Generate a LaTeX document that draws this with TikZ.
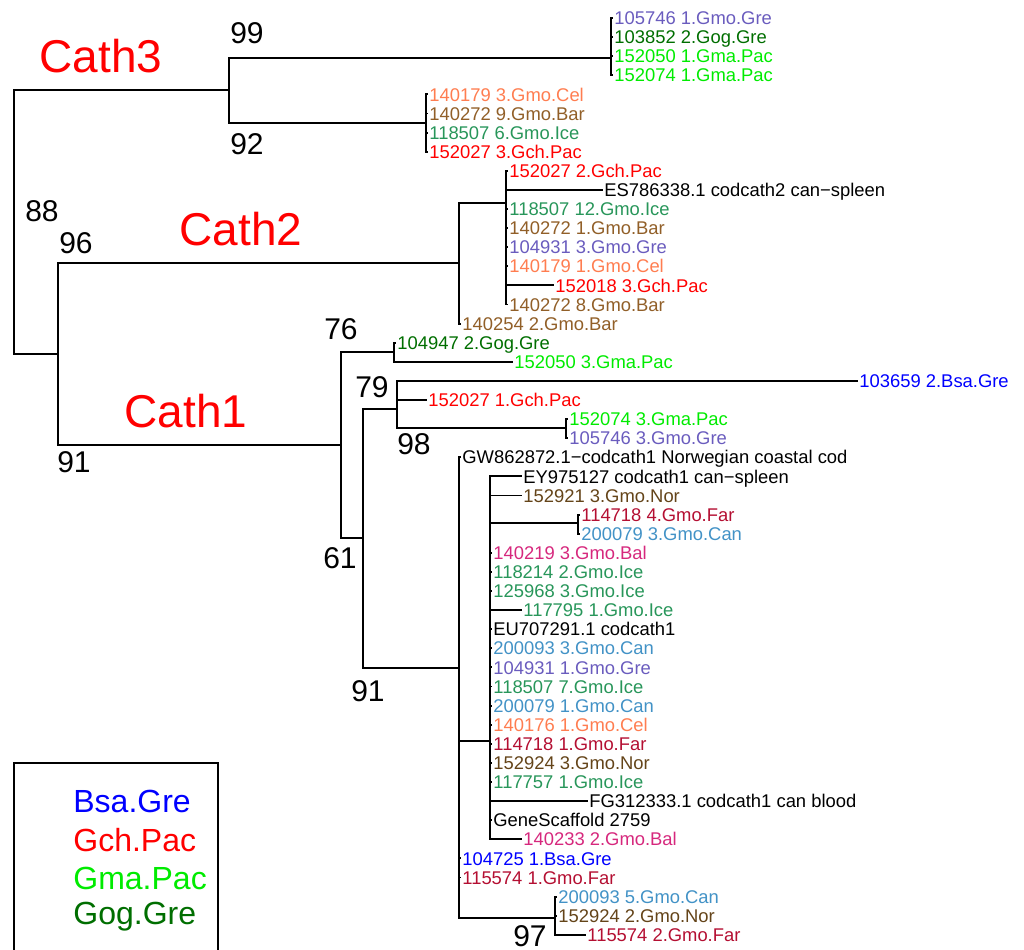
\documentclass[tikz,border=0pt]{standalone}
\usepackage{fontspec}
\setmainfont{Liberation Sans}

\definecolor{cGmoGre}{RGB}{106,92,190}
\definecolor{cGogGre}{RGB}{0,110,0}
\definecolor{cGmaPac}{RGB}{0,235,0}
\definecolor{cGmoCel}{RGB}{255,125,80}
\definecolor{cGmoBar}{RGB}{145,95,40}
\definecolor{cGmoIce}{RGB}{40,150,90}
\definecolor{cGchPac}{RGB}{255,0,0}
\definecolor{cGmoNor}{RGB}{100,68,25}
\definecolor{cGmoFar}{RGB}{180,15,50}
\definecolor{cGmoCan}{RGB}{66,146,198}
\definecolor{cGmoBal}{RGB}{214,40,125}
\definecolor{cBsaGre}{RGB}{0,0,255}

\begin{document}
\begin{tikzpicture}[
    x=0.5pt, y=-0.5pt,
    branch/.style={line width=0.95pt},
    tip/.style={anchor=west, inner sep=0.5pt, text height=6.6pt, text depth=0pt, font=\fontsize{9.2}{10}\selectfont},
    boot/.style={font=\fontsize{15}{15}\selectfont},
    clade/.style={text=red, font=\fontsize{23}{23}\selectfont},
    legend/.style={anchor=west, inner sep=0pt, font=\fontsize{16}{16}\selectfont},
    gmogre/.style={text=cGmoGre}, goggre/.style={text=cGogGre},
    gmapac/.style={text=cGmaPac}, gmocel/.style={text=cGmoCel},
    gmobar/.style={text=cGmoBar}, gmoice/.style={text=cGmoIce},
    gchpac/.style={text=cGchPac}, gmonor/.style={text=cGmoNor},
    gmofar/.style={text=cGmoFar}, gmocan/.style={text=cGmoCan},
    gmobal/.style={text=cGmoBal}, bsagre/.style={text=cBsaGre}
]
\useasboundingbox (0,0) rectangle (1024,949);

% internal nodes (x of the vertical, y of the incoming branch)
\coordinate (root) at (14,222);
\coordinate (c3) at (229,90);
\coordinate (c3a) at (611,58);
\coordinate (c3b) at (426,123);
\coordinate (n96) at (58,354);
\coordinate (c2) at (459,263);
\coordinate (c2a) at (506,203);
\coordinate (n61) at (341,445);
\coordinate (n76) at (394,352);
\coordinate (n91) at (363,538);
\coordinate (n79) at (397,409);
\coordinate (n98) at (566,428);
\coordinate (c1) at (459,668);
\coordinate (c1a) at (490,741);
\coordinate (nfar) at (578,523);
\coordinate (n97) at (555,918);

% tips
\node[tip, gmogre] (t1) at (613,18.0) {105746 1.Gmo.Gre};
\node[tip, goggre] (t2) at (613,37.1) {103852 2.Gog.Gre};
\node[tip, gmapac] (t3) at (613,56.2) {152050 1.Gma.Pac};
\node[tip, gmapac] (t4) at (613,75.3) {152074 1.Gma.Pac};
\node[tip, gmocel] (t5) at (428,94.4) {140179 3.Gmo.Cel};
\node[tip, gmobar] (t6) at (428,113.5) {140272 9.Gmo.Bar};
\node[tip, gmoice] (t7) at (428,132.6) {118507 6.Gmo.Ice};
\node[tip, gchpac] (t8) at (428,151.7) {152027 3.Gch.Pac};
\node[tip, gchpac] (t9) at (508,170.8) {152027 2.Gch.Pac};
\node[tip] (t10) at (603,189.9) {ES786338.1 codcath2 can−spleen};
\node[tip, gmoice] (t11) at (508,209.0) {118507 12.Gmo.Ice};
\node[tip, gmobar] (t12) at (508,228.1) {140272 1.Gmo.Bar};
\node[tip, gmogre] (t13) at (508,247.2) {104931 3.Gmo.Gre};
\node[tip, gmocel] (t14) at (508,266.3) {140179 1.Gmo.Cel};
\node[tip, gchpac] (t15) at (554,285.4) {152018 3.Gch.Pac};
\node[tip, gmobar] (t16) at (508,304.5) {140272 8.Gmo.Bar};
\node[tip, gmobar] (t17) at (461,323.6) {140254 2.Gmo.Bar};
\node[tip, goggre] (t18) at (396,342.7) {104947 2.Gog.Gre};
\node[tip, gmapac] (t19) at (513,361.8) {152050 3.Gma.Pac};
\node[tip, bsagre] (t20) at (858,380.9) {103659 2.Bsa.Gre};
\node[tip, gchpac] (t21) at (427,400.0) {152027 1.Gch.Pac};
\node[tip, gmapac] (t22) at (568,419.1) {152074 3.Gma.Pac};
\node[tip, gmogre] (t23) at (568,438.2) {105746 3.Gmo.Gre};
\node[tip] (t24) at (461,457.3) {GW862872.1−codcath1 Norwegian coastal cod};
\node[tip] (t25) at (522,476.4) {EY975127 codcath1 can−spleen};
\node[tip, gmonor] (t26) at (522,495.5) {152921 3.Gmo.Nor};
\node[tip, gmofar] (t27) at (580,514.6) {114718 4.Gmo.Far};
\node[tip, gmocan] (t28) at (580,533.7) {200079 3.Gmo.Can};
\node[tip, gmobal] (t29) at (492,552.8) {140219 3.Gmo.Bal};
\node[tip, gmoice] (t30) at (492,571.9) {118214 2.Gmo.Ice};
\node[tip, gmoice] (t31) at (492,591.0) {125968 3.Gmo.Ice};
\node[tip, gmoice] (t32) at (522,610.1) {117795 1.Gmo.Ice};
\node[tip] (t33) at (492,629.2) {EU707291.1 codcath1};
\node[tip, gmocan] (t34) at (492,648.3) {200093 3.Gmo.Can};
\node[tip, gmogre] (t35) at (492,667.4) {104931 1.Gmo.Gre};
\node[tip, gmoice] (t36) at (492,686.5) {118507 7.Gmo.Ice};
\node[tip, gmocan] (t37) at (492,705.6) {200079 1.Gmo.Can};
\node[tip, gmocel] (t38) at (492,724.7) {140176 1.Gmo.Cel};
\node[tip, gmofar] (t39) at (492,743.8) {114718 1.Gmo.Far};
\node[tip, gmonor] (t40) at (492,762.9) {152924 3.Gmo.Nor};
\node[tip, gmoice] (t41) at (492,782.0) {117757 1.Gmo.Ice};
\node[tip] (t42) at (588,801.1) {FG312333.1 codcath1 can blood};
\node[tip] (t43) at (492,820.2) {GeneScaffold 2759};
\node[tip, gmobal] (t44) at (522,839.3) {140233 2.Gmo.Bal};
\node[tip, bsagre] (t45) at (461,858.4) {104725 1.Bsa.Gre};
\node[tip, gmofar] (t46) at (461,877.5) {115574 1.Gmo.Far};
\node[tip, gmocan] (t47) at (557,896.6) {200093 5.Gmo.Can};
\node[tip, gmonor] (t48) at (557,915.7) {152924 2.Gmo.Nor};
\node[tip, gmofar] (t49) at (586,934.8) {115574 2.Gmo.Far};

% branches
\draw[branch] (root) |- (c3);
\draw[branch] (root) |- (n96);
\draw[branch] (c3) |- (c3a);
\draw[branch] (c3) |- (c3b);
\foreach \t in {t1,t2,t3,t4} \draw[branch] (c3a) |- (\t.west);
\foreach \t in {t5,t6,t7,t8} \draw[branch] (c3b) |- (\t.west);
\draw[branch] (n96) |- (c2);
\draw[branch] (n96) |- (n61);
\draw[branch] (c2) |- (c2a);
\draw[branch] (c2) |- (t17.west);
\foreach \t in {t9,t10,t11,t12,t13,t14,t15,t16} \draw[branch] (c2a) |- (\t.west);
\draw[branch] (n61) |- (n76);
\draw[branch] (n61) |- (n91);
\draw[branch] (n76) |- (t18.west);
\draw[branch] (n76) |- (t19.west);
\draw[branch] (n91) |- (n79);
\draw[branch] (n91) |- (c1);
\draw[branch] (n79) |- (t20.west);
\draw[branch] (n79) |- (t21.west);
\draw[branch] (n79) |- (n98);
\draw[branch] (n98) |- (t22.west);
\draw[branch] (n98) |- (t23.west);
\draw[branch] (c1) |- (t24.west);
\draw[branch] (c1) |- (c1a);
\draw[branch] (c1) |- (t45.west);
\draw[branch] (c1) |- (t46.west);
\draw[branch] (c1) |- (n97);
\foreach \t in {t25,t26,t29,t30,t31,t32,t33,t34,t35,t36,t37,t38,t39,t40,t41,t42,t43,t44}
  \draw[branch] (c1a) |- (\t.west);
\draw[branch] (c1a) |- (nfar);
\draw[branch] (nfar) |- (t27.west);
\draw[branch] (nfar) |- (t28.west);
\foreach \t in {t47,t48,t49} \draw[branch] (n97) |- (\t.west);

% support values
\node[boot] (b99) at (247,33) {99};
\node[boot] (b92) at (247,144) {92};
\node[boot] (b88) at (42,211) {88};
\node[boot] (b96) at (76,243) {96};
\node[boot] (b91a) at (74,462) {91};
\node[boot] (b76) at (341,329) {76};
\node[boot] (b79) at (372,387) {79};
\node[boot] (b98) at (414,444) {98};
\node[boot] (b61) at (340,558) {61};
\node[boot] (b91b) at (368,691) {91};
\node[boot] (b97) at (530,936) {97};

% clade names
\node[clade] (cath3) at (101,56) {Cath3};
\node[clade] (cath2) at (241,229) {Cath2};
\node[clade] (cath1) at (186,411) {Cath1};

% legend
\draw[line width=0.8pt] (14,763) rectangle (218,990);
\node[legend, bsagre] (l1) at (73,801) {Bsa.Gre};
\node[legend, gchpac] (l2) at (73,840) {Gch.Pac};
\node[legend, gmapac] (l3) at (73,878) {Gma.Pac};
\node[legend, goggre] (l4) at (73,917) {Gog.Gre};
\end{tikzpicture}
\end{document}
